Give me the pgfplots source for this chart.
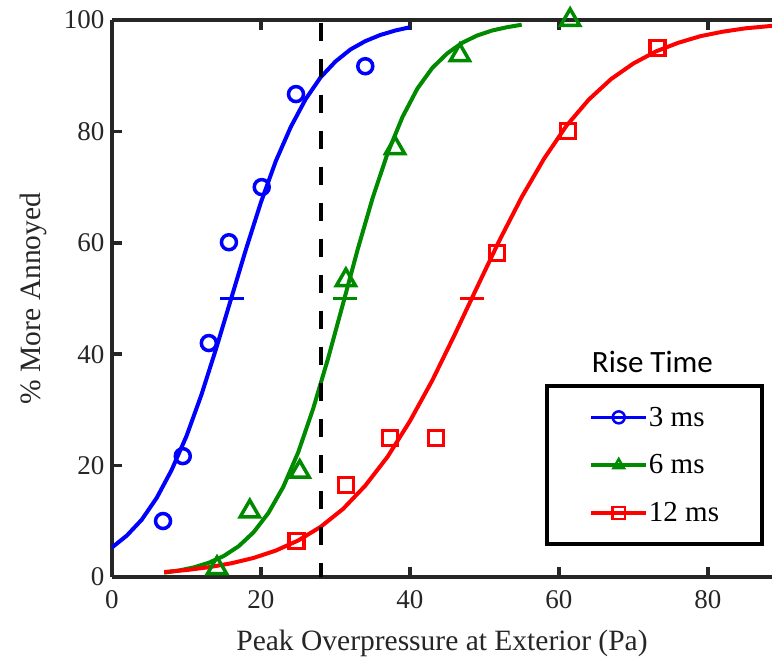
\documentclass[border=0pt]{standalone}
\usepackage{fontspec}
\setmainfont{Liberation Serif}
\newfontfamily\calibri{Carlito}
\usepackage{pgfplots}
\pgfplotsset{compat=1.18}
\usetikzlibrary{calc}
\definecolor{mblue}{RGB}{0,0,255}
\definecolor{mgreen}{RGB}{0,138,0}
\definecolor{mred}{RGB}{255,0,0}
\definecolor{axgray}{RGB}{38,38,38}

\begin{document}
\begin{tikzpicture}
\begin{axis}[
    scale only axis,
    width=660pt, height=557pt,
    xmin=0, xmax=88.6, ymin=0, ymax=100,
    axis x line*=box, axis y line*=left,
    axis line style={axgray, line width=3.5pt},
    xtick={0,20,40,60,80}, ytick={0,20,40,60,80,100},
    tick align=inside, major tick length=10pt,
    tick style={axgray, line width=3.5pt},
    xtick pos=both,
    /pgf/number format/assume math mode=true,
    ticklabel style={font=\fontsize{27}{30}\selectfont, text=axgray},
    xticklabel style={yshift=-10pt},
    yticklabel style={xshift=-4pt},
    xlabel={Peak Overpressure at Exterior (Pa)},
    ylabel={\% More Annoyed},
    label style={font=\fontsize{29.5}{32}\selectfont, text=axgray},
    xlabel style={yshift=-14pt},
    ylabel style={yshift=10pt},
    clip=false,
    legend cell align=left,
    legend style={at={(0.988,0.3465)}, anchor=north east,
        draw=black, line width=4pt, font=\fontsize{29}{32}\selectfont,
        row sep=25pt, inner xsep=42pt, inner ysep=20pt,
        nodes={inner sep=1pt},
        /tikz/every even column/.append style={column sep=2pt}},
    legend image code/.code={
        \draw[line width=3.5pt] (0pt,0pt) -- (55pt,0pt);
        \draw[mark size=6pt, line width=2.5pt] plot coordinates {(27.5pt,0pt)};
    },
]
% fitted curves
\addplot[mblue, line width=4pt, forget plot] coordinates {
 (0,5.3) (2,7.45) (4,10.3) (6,14.2) (8,19.2) (10,25.3) (12,32.7) (14,41.1)
 (16,50) (18,58.9) (20,67.3) (22,74.7) (24,80.8) (26,85.8) (28,89.7)
 (30,92.55) (32,94.7) (34,96.2) (36,97.3) (38,98.1) (40,98.7)};
\addplot[mgreen, line width=4pt, forget plot] coordinates {
 (7,0.78) (9,1.17) (11,1.73) (13,2.56) (15,3.77) (17,5.52) (19,8.02) (21,11.5)
 (23,16.2) (25,22.4) (27,30.2) (29,39.2) (31,49.0) (33,58.9) (35,68.1)
 (37,76.1) (39,82.6) (41,87.7) (43,91.4) (45,94.0) (47,95.9) (49,97.2)
 (51,98.1) (53,98.7) (55,99.15)};
\addplot[mred, line width=4pt, forget plot] coordinates {
 (7,0.89) (10,1.25) (13,1.76) (16,2.46) (19,3.42) (22,4.75) (25,6.56) (28,9.0)
 (31,12.2) (34,16.4) (37,21.6) (40,28.0) (43,35.3) (46,43.5) (49,52.0)
 (52,60.4) (55,68.2) (58,75.1) (61,81.0) (64,85.7) (67,89.4) (70,92.2)
 (73,94.35) (76,95.9) (79,97.1) (82,97.9) (85,98.5) (88.6,98.95)};
% 50% points
\addplot[only marks, mark=-, mark size=12pt, line width=3.5pt, mblue, forget plot] coordinates {(16.1,50)};
\addplot[only marks, mark=-, mark size=12pt, line width=3.5pt, mgreen, forget plot] coordinates {(31.3,50)};
\addplot[only marks, mark=-, mark size=12pt, line width=3.5pt, mred, forget plot] coordinates {(48.3,50)};
% dashed reference line
\addplot[black, line width=4pt, dash pattern=on 18pt off 18pt, dash phase=-3pt, forget plot] coordinates {(28.05,100) (28.05,0)};
% data
\addplot[mblue, only marks, mark=o, mark size=7.5pt, line width=3.5pt] coordinates {
 (6.85,10.05) (9.5,21.7) (13.0,42.0) (15.7,60.1) (20.1,70.0) (24.7,86.7) (34.0,91.7)};
\addplot[mgreen, only marks, mark=triangle, mark size=11pt, line width=3.5pt] coordinates {
 (14.1,1.6) (18.5,11.8) (25.2,18.9) (31.4,53.3) (38.0,77.0) (46.7,93.7) (61.5,100)};
\addplot[mred, only marks, mark=square, mark size=7.5pt, line width=3.5pt] coordinates {
 (24.8,6.5) (31.4,16.5) (37.3,25.0) (43.5,25.0) (51.7,58.2) (61.2,80.1) (73.2,95.0)};
\legend{3 ms, 6 ms, 12 ms}
\node[font=\calibri\fontsize{31}{34}\selectfont, anchor=base] at (axis cs:72.55,36.8) {Rise Time};
\end{axis}
\pgfresetboundingbox
\path[use as bounding box] ($(current axis.south west)+(-112pt,-81pt)$) rectangle ($(current axis.north east)+(0pt,20pt)$);
\end{tikzpicture}
\end{document}
